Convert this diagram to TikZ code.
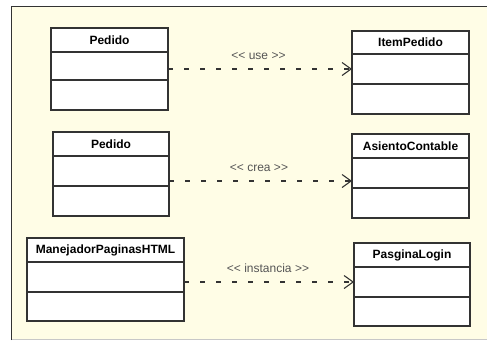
\documentclass[tikz,border=0pt]{standalone}
\usepackage{fontspec}
\setmainfont{Liberation Sans}
\usetikzlibrary{arrows.meta}
\definecolor{panelbg}{RGB}{255,253,230}
\definecolor{ink}{RGB}{51,51,51}
\definecolor{labelgray}{RGB}{85,85,85}
\definecolor{edgegray}{RGB}{200,200,200}
\tikzset{
  comp/.style={draw=ink, fill=white, line width=1.2pt, rectangle, inner sep=0pt,
    outer sep=0pt, anchor=north west},
  ctitle/.style={comp, font=\fontsize{12}{14}\selectfont\bfseries},
  deplabel/.style={text=labelgray, font=\fontsize{12}{14}\selectfont, anchor=base, inner sep=0pt},
  dep/.style={draw=ink, line width=1.1pt, dash pattern=on 5pt off 11pt,
    -{Straight Barb[length=9pt,width=13pt,line width=1.1pt]}}
}
\begin{document}
\begin{tikzpicture}[x=1pt,y=-1pt]
\useasboundingbox (0,0) rectangle (487,341);
% canvas panel
\fill[panelbg] (11,6) rectangle (487,340);
\draw[edgegray, line width=1pt] (11,339.5) -- (487,339.5);
\draw[ink, line width=1pt] (11,340) -- (11,6) -- (487,6);

% row 1: Pedido -> ItemPedido
\node[ctitle, minimum width=117pt, minimum height=24pt] (p1t) at (51,28) {Pedido};
\node[comp, minimum width=117pt, minimum height=28pt] (p1a) at (p1t.south west) {};
\node[comp, minimum width=117pt, minimum height=30pt] (p1m) at (p1a.south west) {};
\node[ctitle, minimum width=117pt, minimum height=23pt] (ipt) at (352,31) {ItemPedido};
\node[comp, minimum width=117pt, minimum height=30pt] (ipa) at (ipt.south west) {};
\node[comp, minimum width=117pt, minimum height=30pt] (ipm) at (ipa.south west) {};
\draw[dep] (p1a.east |- ipa.west) -- (ipa.west);
\node[deplabel] (l1) at (258.5,59) {<{}< use >{}>};

% row 2: Pedido -> AsientoContable
\node[ctitle, minimum width=116pt, minimum height=24pt] (p2t) at (53,132) {Pedido};
\node[comp, minimum width=116pt, minimum height=30pt] (p2a) at (p2t.south west) {};
\node[comp, minimum width=116pt, minimum height=30pt] (p2m) at (p2a.south west) {};
\node[ctitle, minimum width=117pt, minimum height=24pt] (act) at (352,134) {AsientoContable};
\node[comp, minimum width=117pt, minimum height=30pt] (aca) at (act.south west) {};
\node[comp, minimum width=117pt, minimum height=30pt] (acm) at (aca.south west) {};
\coordinate (acin) at ([yshift=-8pt]aca.west);
\draw[dep] (p2a.east |- acin) -- (acin);
\node[deplabel] (l2) at (259,171) {<{}< crea >{}>};

% row 3: ManejadorPaginasHTML -> PasginaLogin
\node[ctitle, minimum width=157pt, minimum height=24pt] (mht) at (27,238) {ManejadorPaginasHTML};
\node[comp, minimum width=157pt, minimum height=30pt] (mha) at (mht.south west) {};
\node[comp, minimum width=157pt, minimum height=29pt] (mhm) at (mha.south west) {};
\node[ctitle, minimum width=116pt, minimum height=24pt] (plt) at (354,243) {PasginaLogin};
\node[comp, minimum width=116pt, minimum height=30pt] (pla) at (plt.south west) {};
\node[comp, minimum width=116pt, minimum height=29pt] (plm) at (pla.south west) {};
\draw[dep] (mha.east |- pla.west) -- (pla.west);
\node[deplabel] (l3) at (268,272) {<{}< instancia >{}>};
\end{tikzpicture}
\end{document}
